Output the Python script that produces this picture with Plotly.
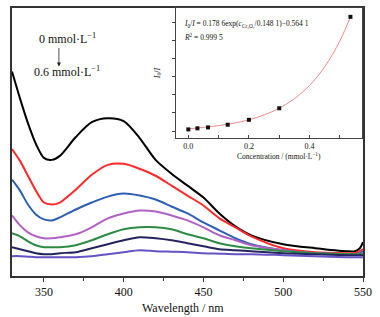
import plotly.graph_objects as go

# ---- main spectra (Wavelength / nm vs intensity, a.u.) ----
wavelength = [330, 335, 340, 345, 350, 355, 360, 370, 380, 390, 400, 410, 420,
              430, 440, 450, 460, 470, 480, 500, 520, 540, 545, 548, 550]
c_0 = [206, 179, 154, 133, 119, 117, 121, 140, 155, 159, 156, 139, 117, 103, 91, 79, 63, 50, 41, 32, 28, 25, 25, 28, 34]
c_1 = [128, 116, 101, 86, 74, 72, 74, 87, 102, 112, 113, 108, 101, 91, 81, 71, 58, 49, 40, 28, 24, 23, 23, 25, 27]
c_2 = [97, 86, 72, 62, 57, 56, 59, 67, 74, 80, 83, 81, 77, 70, 63, 54, 46, 38, 32, 26, 23, 22, 22, 23, 25]
c_3 = [61, 51, 44, 40, 38, 38, 39, 42, 49, 58, 63, 66, 65, 61, 56, 49, 41, 36, 31, 26, 23, 22, 22, 22, 23]
c_4 = [43, 40, 35, 31, 29, 29, 29, 31, 36, 42, 47, 49, 49, 47, 42, 38, 33, 30, 28, 25, 23, 22, 22, 22, 22]
c_5 = [29, 27, 25, 23, 22, 22, 23, 24, 28, 32, 36, 39, 38, 36, 33, 30, 27, 26, 25, 23, 22, 21, 21, 21, 21]
c_6 = [20, 20, 19.5, 19, 19, 19, 19, 19, 20, 22, 24, 26, 25, 24.5, 24, 23, 22.5, 22, 22, 21, 20, 19, 19, 19, 19]
spectra = [c_0, c_1, c_2, c_3, c_4, c_5, c_6]
colors = ["#000000", "#ff2a2a", "#2f5fb3", "#b062c4", "#2e8b45", "#24245e", "#6652c2"]

x_ticks = [350, 400, 450, 500, 550]

# ---- inset: I0/I vs concentration ----
conc = [0, 0.03, 0.065, 0.13, 0.2, 0.3, 0.535]
ratio = [1.09, 1.15, 1.20, 1.35, 1.62, 2.26, 7.32]
fit_conc = [0, 0.05, 0.1, 0.15, 0.2, 0.25, 0.3, 0.35, 0.4, 0.45, 0.5, 0.535]
fit_ratio = [1.12, 1.20, 1.30, 1.43, 1.62, 1.89, 2.26, 2.79, 3.52, 4.55, 5.99, 7.32]
inset_x_ticks = [0.0, 0.2, 0.4]

SERIF = "Liberation Serif, Times New Roman, serif"

fig = go.Figure()
for vals, col in zip(spectra, colors):
    fig.add_trace(go.Scatter(x=wavelength, y=vals, mode="lines",
                             line=dict(color=col, width=2, shape="spline", smoothing=0.8),
                             showlegend=False, hoverinfo="skip"))

fig.add_trace(go.Scatter(x=fit_conc, y=fit_ratio, mode="lines", xaxis="x2", yaxis="y2",
                         line=dict(color="#f08a8a", width=1, shape="spline"),
                         showlegend=False, hoverinfo="skip"))
fig.add_trace(go.Scatter(x=conc, y=ratio, mode="markers", xaxis="x2", yaxis="y2",
                         marker=dict(symbol="square", size=4, color="#111111"),
                         showlegend=False, hoverinfo="skip", cliponaxis=False))

fig.update_layout(
    width=380, height=317,
    margin=dict(l=12, r=17, t=6, b=41),
    paper_bgcolor="white", plot_bgcolor="white",
    font=dict(family=SERIF, color="#111111", size=12),
    xaxis=dict(range=[330, 550], tickvals=x_ticks, ticks="outside", ticklen=4,
               tickwidth=1, tickcolor="#333", showline=True, linecolor="#333",
               linewidth=1.5, mirror=True, showgrid=False, zeroline=False,
               minor=dict(dtick=25, tick0=325, ticks="outside", ticklen=3, tickcolor="#333"),
               tickfont=dict(size=12, family=SERIF)),
    yaxis=dict(range=[0, 270], showticklabels=False, ticks="", showline=True,
               linecolor="#333", linewidth=1.5, mirror=True, showgrid=False, zeroline=False),
    xaxis2=dict(domain=[0.467, 0.997], anchor="y2", range=[-0.041, 0.573],
                tickvals=inset_x_ticks, ticktext=["0.0", "0.2", "0.4"],
                ticks="inside", ticklen=3, tickcolor="#444",
                minor=dict(dtick=0.1, tick0=0, ticks="inside", ticklen=3, tickcolor="#444"),
                showline=True, linecolor="#444", linewidth=1, mirror=True,
                showgrid=False, zeroline=False, tickfont=dict(size=8, family=SERIF)),
    yaxis2=dict(domain=[0.515, 1.0], anchor="x2", range=[0.615, 7.81],
                dtick=1, tick0=1, ticks="outside", ticklen=3, tickcolor="#444",
                showticklabels=False, showline=True, linecolor="#444", linewidth=1,
                mirror=True, showgrid=False, zeroline=False,
                title=dict(text="<i>I</i><sub>0</sub>/<i>I</i>", font=dict(size=8, family=SERIF), standoff=10)),
)

# inset background
fig.add_shape(type="rect", xref="x2 domain", yref="y2 domain", x0=0, x1=1, y0=0, y1=1,
              fillcolor="white", line=dict(width=0), layer="below")

# axis titles as annotations (positioned like the reference)
fig.add_annotation(x=0.487, y=-0.087, xref="paper", yref="paper", xanchor="center", yanchor="top",
                   text="Wavelength / nm", showarrow=False, font=dict(size=12, family=SERIF))
fig.add_annotation(x=0.761, y=0.448, xref="paper", yref="paper", xanchor="center", yanchor="middle",
                   text="Concentration / (mmol·L<sup>−1</sup>)", showarrow=False,
                   font=dict(size=7.5, family=SERIF))

# concentration labels + arrow
fig.add_annotation(x=364.5, y=239, xref="x", yref="y", text="0 mmol·L<sup>−1</sup>",
                   showarrow=False, font=dict(size=12, family=SERIF))
fig.add_annotation(x=364.5, y=206, xref="x", yref="y", text="0.6 mmol·L<sup>−1</sup>",
                   showarrow=False, font=dict(size=12, family=SERIF))
fig.add_annotation(x=359.4, y=211, xref="x", yref="y", ax=0, ay=-20, text="",
                   showarrow=True, arrowhead=2, arrowsize=1, arrowwidth=0.8, arrowcolor="#222")

# inset equation
fig.add_annotation(x=0.035, y=0.93, xref="x2 domain", yref="y2 domain", xanchor="left", yanchor="top",
                   text="<i>I</i><sub>0</sub>/<i>I</i> = 0.178 6exp(<i>c</i><sub>Cr₂O₇</sub>/0.148 1)−0.564 1",
                   showarrow=False, font=dict(size=7.5, family=SERIF))
fig.add_annotation(x=0.035, y=0.83, xref="x2 domain", yref="y2 domain", xanchor="left", yanchor="top",
                   text="<i>R</i><sup>2</sup> = 0.999 5",
                   showarrow=False, font=dict(size=7.5, family=SERIF))

fig.write_html("out.html", config={"displayModeBar": False},
               post_script="document.body.style.margin='0px';document.body.style.padding='0px';")
